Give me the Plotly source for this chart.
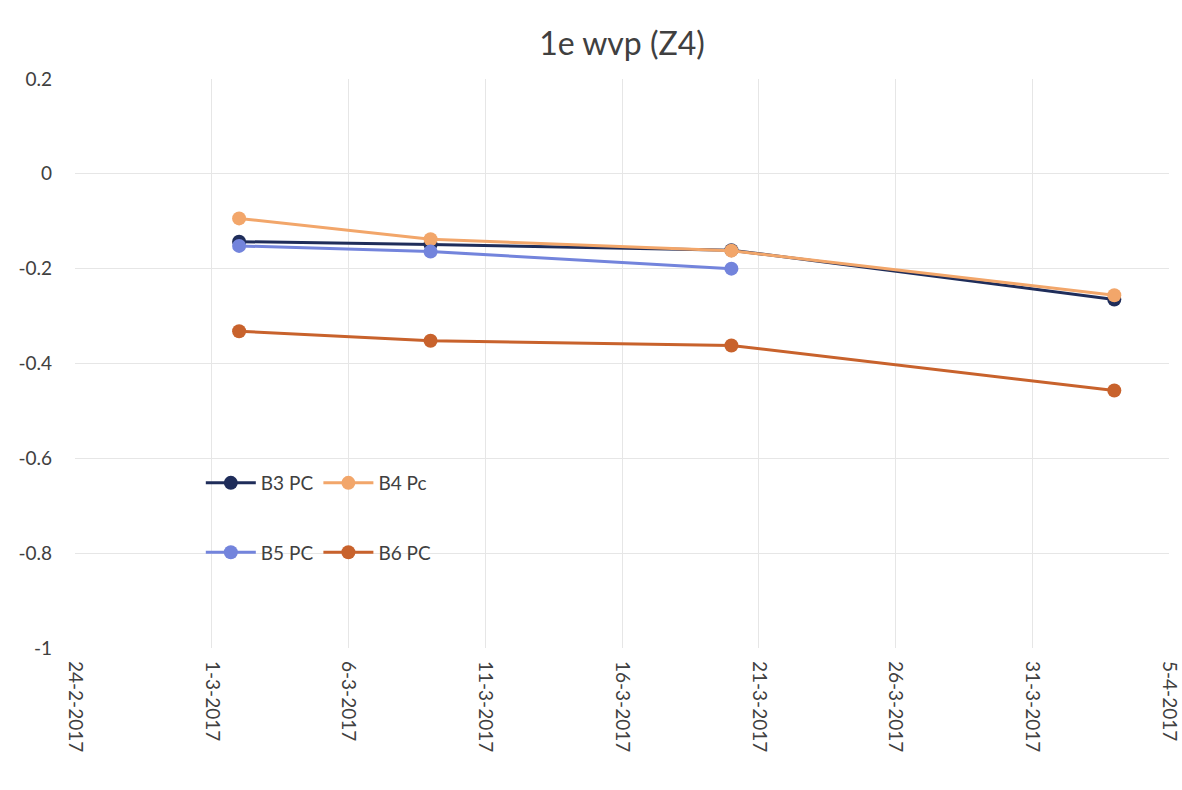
import plotly.graph_objects as go

# Meetdata 1e wvp (Z4)
dates = ["2017-03-02", "2017-03-09", "2017-03-20", "2017-04-03"]
b3_pc = [-0.143, -0.149, -0.161, -0.265]
b4_pc = [-0.094, -0.138, -0.162, -0.256]
b5_pc = [-0.152, -0.164, -0.200]
b6_pc = [-0.332, -0.352, -0.362, -0.457]

tick_dates = ["2017-02-24", "2017-03-01", "2017-03-06", "2017-03-11", "2017-03-16",
              "2017-03-21", "2017-03-26", "2017-03-31", "2017-04-05"]
tick_labels = ["24-2-2017", "1-3-2017", "6-3-2017", "11-3-2017", "16-3-2017",
               "21-3-2017", "26-3-2017", "31-3-2017", "5-4-2017"]

FONT = "Lato, 'Open Sans', sans-serif"
TXT = "#404040"
GRID = "#e6e6e6"

series = [
    ("B3 PC", dates, b3_pc, "#1f2d5a", "legend"),
    ("B4 Pc", dates, b4_pc, "#f2a66a", "legend"),
    ("B5 PC", dates[:3], b5_pc, "#7384dc", "legend2"),
    ("B6 PC", dates, b6_pc, "#c8622c", "legend2"),
]

fig = go.Figure()
for name, xs, ys, color, leg in series:
    fig.add_trace(go.Scatter(
        x=xs, y=ys, name=name, mode="lines+markers",
        line=dict(color=color, width=3),
        marker=dict(color=color, size=14),
        legend=leg,
    ))

legend_style = dict(
    orientation="h", xanchor="left", yanchor="middle",
    bgcolor="rgba(0,0,0,0)",
    font=dict(family=FONT, size=19, color=TXT),
    itemwidth=50, tracegroupgap=0,
)

fig.update_layout(
    width=1182, height=790,
    margin=dict(l=75, r=13, t=79, b=142),
    paper_bgcolor="white", plot_bgcolor="white",
    title=dict(text="1e wvp (Z4)", xref="paper", x=0.5, xanchor="center",
               y=0.944, yanchor="middle",
               font=dict(family=FONT, size=32, color=TXT)),
    legend=dict(x=0.115, y=0.29, **legend_style),
    legend2=dict(x=0.115, y=0.168, **legend_style),
    xaxis=dict(
        type="date", range=["2017-02-24", "2017-04-05"],
        tickmode="array", tickvals=tick_dates, ticktext=tick_labels,
        tickangle=90, ticklabelstandoff=12, automargin=False,
        tickfont=dict(family=FONT, size=19, color=TXT),
        showgrid=True, gridcolor=GRID, gridwidth=1,
        zeroline=False, showline=False,
    ),
    yaxis=dict(
        range=[-1, 0.2], tickmode="array",
        tickvals=[0.2, 0, -0.2, -0.4, -0.6, -0.8, -1],
        ticktext=["0.2", "0", "-0.2", "-0.4", "-0.6", "-0.8", "-1"],
        ticklabelstandoff=22, automargin=False,
        tickfont=dict(family=FONT, size=19, color=TXT),
        showgrid=True, gridcolor=GRID, gridwidth=1,
        zeroline=False, showline=False,
    ),
    showlegend=True,
)

fig.write_html("out.html")
